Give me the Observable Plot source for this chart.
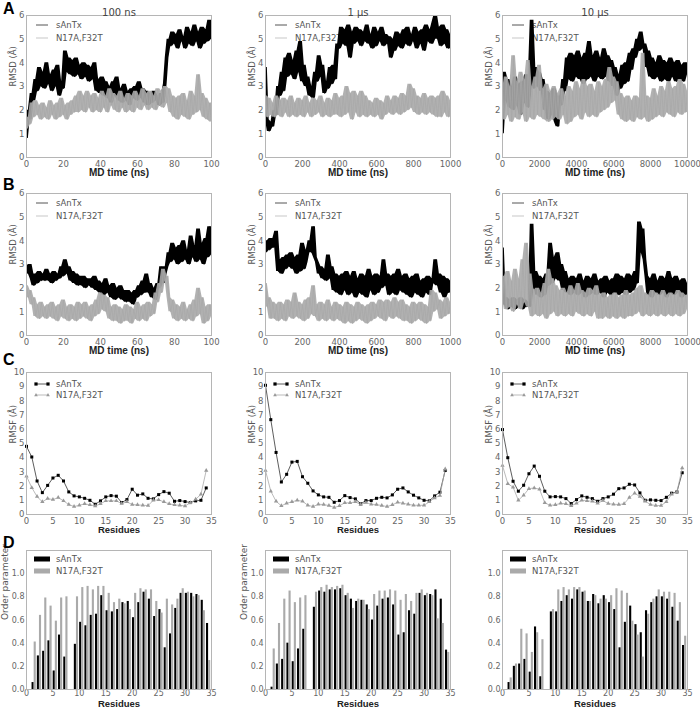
<!DOCTYPE html>
<html><head><meta charset="utf-8">
<script src="https://cdn.jsdelivr.net/npm/d3@7"></script>
<script src="https://cdn.jsdelivr.net/npm/@observablehq/plot@0.6"></script>
<style>
body{margin:0;background:#fff;}
#fig{position:relative;width:700px;height:711px;overflow:hidden;background:#fff;font-family:"DejaVu Sans",sans-serif;}
.letter{position:absolute;font-family:"Liberation Sans",Arial,sans-serif;font-weight:bold;font-size:16px;line-height:16px;color:#000;}
</style></head>
<body><div id="fig"></div>
<script>
// ---------- series names ----------
const seriesNames = ["sAnTx", "N17A,F32T"];
const columnTitles = ["100 ns", "1 µs", "10 µs"];
const timeSteps = [1, 10, 100];       // ns between samples
const timeMax = [100, 1000, 10000];
const timeTicks = [[0,20,40,60,80,100],[0,200,400,600,800,1000],[0,2000,4000,6000,8000,10000]];
const rmsdTicks = [0,1,2,3,4,5,6];
const rmsfTicks = [0,1,2,3,4,5,6,7,8,9,10];
const residueTicks = [0,5,10,15,20,25,30,35];
const orderTicks = [0,0.2,0.4,0.6,0.8,1.0];

// ---------- Row A: RMSD ----------
const rmsdA_100_wt = [0.8,2.0,1.6,2.7,2.4,3.3,2.8,3.8,3.0,3.6, 2.9,4.0,3.1,3.5,2.8,3.7,3.0,3.9,2.6,3.2, 2.9,4.5,3.6,4.2,3.5,4.1,3.4,4.2,3.5,3.9, 3.3,4.0,3.4,3.9,3.2,3.8,3.3,4.0,2.8,3.3, 2.7,3.4,2.6,3.2,2.5,3.0,2.3,3.2,2.6,3.4, 2.4,2.9,2.3,3.1,2.4,2.8,2.2,2.9,2.5,3.0, 2.4,3.2,2.5,2.9,2.3,2.8,2.2,2.7,2.3,2.8, 2.4,2.6,2.2,2.7,2.3,3.1,4.2,5.0,4.7,5.3, 4.8,5.2,4.6,5.4,4.9,5.1,4.6,5.5,4.8,5.3, 4.7,5.6,4.9,5.3,4.6,5.5,4.8,5.4,4.9,5.8, 5.0];
const rmsdA_100_mut = [1.2,1.7,1.4,2.3,1.7,2.4,1.8,2.2,1.6,2.3, 1.7,2.1,1.6,2.4,1.8,2.2,1.6,2.3,1.7,2.5, 1.8,2.2,1.6,2.3,1.8,2.4,1.9,2.6,1.9,2.8, 2.0,2.6,1.9,2.8,2.1,2.6,1.9,2.7,2.0,2.5, 1.9,2.8,2.1,2.6,1.9,2.9,2.2,2.7,2.0,2.6, 1.9,2.8,2.1,2.5,1.9,2.7,2.0,2.6,1.9,2.8, 2.1,2.6,2.0,2.9,2.2,2.7,2.0,2.8,2.1,2.6, 2.0,2.9,2.2,2.8,2.1,3.0,2.3,2.9,1.9,2.6, 1.7,2.5,1.6,2.6,1.8,2.7,1.7,2.4,1.6,2.8, 1.8,2.6,1.9,3.5,2.0,2.7,1.7,2.5,1.6,2.3, 1.5];
const rmsdA_1us_wt = [3.8,1.6,1.1,1.5,1.3,2.0,1.8,3.0,2.6,3.6, 2.8,4.2,3.4,4.4,3.5,4.1,3.3,4.5,3.6,4.9, 3.2,3.9,3.0,3.4,2.6,3.0,2.5,3.6,3.2,4.3, 3.4,3.9,2.7,3.2,2.9,3.8,3.1,3.9,3.3,4.8, 4.6,5.5,4.8,5.4,4.7,5.6,4.2,5.3,4.8,5.5, 4.9,5.4,4.7,5.3,4.9,5.6,4.8,5.2,4.6,5.5, 4.7,5.3,4.9,5.5,4.7,5.2,4.8,5.1,4.2,5.0, 4.5,5.3,4.7,5.2,4.6,5.4,4.8,5.5,4.7,5.2, 4.9,5.5,4.6,5.3,4.8,5.4,4.5,5.6,4.9,5.4, 4.8,5.7,6.0,5.0,5.5,4.7,5.6,4.8,5.4,4.6, 5.2];
const rmsdA_1us_mut = [2.6,1.7,2.5,1.8,2.3,1.7,2.6,1.8,2.4,1.7, 2.5,1.9,2.4,1.7,2.6,1.8,2.3,1.7,2.5,1.8, 2.4,1.7,2.6,1.9,2.3,1.7,2.5,1.8,2.4,1.9, 2.6,1.7,2.3,1.8,2.5,1.7,2.4,1.8,2.7,1.8, 2.5,1.7,2.6,1.8,3.0,1.9,2.7,1.6,2.8,1.9, 2.6,1.7,2.8,1.8,2.6,1.7,2.4,1.8,2.3,1.7, 2.5,1.8,2.4,1.6,2.3,1.8,2.6,1.9,2.4,1.8, 2.6,1.9,2.5,1.8,2.7,1.9,2.6,2.0,3.1,2.1, 2.9,1.9,2.6,1.8,2.5,1.9,2.7,1.8,2.5,1.9, 2.6,1.8,2.5,1.7,2.6,1.7,2.8,1.9,2.6,1.7, 2.4];
const rmsdA_10us_wt = [1.0,3.6,2.4,3.3,2.1,3.0,2.0,3.4,2.2,3.1, 1.8,3.2,2.3,3.5,2.1,3.0,5.8,2.9,3.8,3.0, 3.6,2.8,3.3,2.0,2.8,1.6,2.7,1.8,2.9,1.5, 1.3,2.6,2.2,3.3,2.8,4.2,3.3,4.4,3.2,4.3, 3.4,4.5,3.3,4.2,3.1,4.4,3.3,4.9,3.4,4.3, 3.2,4.5,3.4,4.2,3.3,4.6,3.4,4.3,3.2,4.1, 3.0,3.8,2.6,3.5,2.9,3.9,3.1,4.0,3.2,4.4, 3.7,4.6,4.2,5.0,4.5,5.3,4.6,4.8,3.8,4.5, 3.4,4.2,3.3,4.0,3.4,4.3,3.2,4.1,3.3,4.0, 3.2,4.2,3.4,4.0,3.2,4.1,3.3,3.9,3.2,4.0, 3.5];
const rmsdA_10us_mut = [2.8,1.6,3.4,1.8,3.0,1.5,4.3,1.7,3.2,1.6, 3.6,1.9,3.3,1.5,4.1,1.7,3.0,1.6,3.4,1.8, 3.9,1.7,2.9,1.6,3.1,1.5,2.8,1.6,3.0,1.7, 2.7,1.6,2.9,1.8,2.6,1.4,3.0,1.5,2.8,1.7, 3.2,1.8,2.9,1.6,3.3,1.9,3.0,1.7,3.1,1.8, 2.8,1.7,3.2,1.9,3.0,2.0,3.3,2.1,3.8,2.3, 3.4,2.4,3.2,1.8,2.7,1.6,2.5,1.5,2.6,1.6, 2.4,1.5,2.6,1.7,2.5,1.6,4.4,1.7,2.6,1.5, 2.5,1.6,2.9,1.7,2.6,1.8,3.0,1.7,2.8,1.9, 3.2,1.8,2.9,1.7,3.0,1.9,3.3,1.8,3.1,1.9, 2.8];

// ---------- Row B: RMSD ----------
const rmsdB_100_wt = [2.9,2.6,3.0,2.4,2.1,2.6,2.2,2.7,2.3,2.6, 2.3,2.8,2.3,2.6,2.2,2.7,2.3,2.6,2.4,2.9, 2.5,3.2,2.6,2.9,2.3,2.7,2.2,2.6,2.1,2.5, 2.1,2.5,2.0,2.4,2.1,2.4,2.0,2.5,1.9,2.3, 1.8,2.2,1.7,2.4,1.8,2.1,1.6,2.2,1.5,2.0, 1.6,2.1,1.5,1.9,1.4,1.9,1.4,1.8,1.3,1.9, 1.6,2.1,1.7,2.3,1.8,2.6,1.8,2.2,1.6,2.0, 1.5,2.2,2.0,2.9,2.2,2.6,2.9,3.5,3.1,3.9, 3.2,3.7,3.0,3.8,3.1,4.0,3.2,3.6,3.0,4.2, 3.3,3.8,3.1,4.5,3.2,3.9,3.0,4.1,3.3,4.6, 3.4];
const rmsdB_100_mut = [2.1,1.6,1.9,1.3,1.6,0.8,1.3,0.7,1.4,0.8, 1.2,0.7,1.3,0.8,1.4,0.7,1.2,0.6,1.3,0.8, 1.5,0.7,1.2,0.6,1.3,0.7,1.2,0.6,1.4,0.7, 1.3,0.8,1.4,0.7,1.2,0.6,1.3,0.8,1.5,0.9, 1.8,1.1,1.7,1.0,1.6,0.7,1.2,0.6,1.3,0.6, 1.2,0.5,1.1,0.6,1.3,0.6,1.2,0.5,1.1,0.7, 1.4,0.6,1.2,0.7,1.3,0.6,1.4,0.8,1.3,0.9, 1.8,1.4,2.2,1.8,2.8,2.3,2.5,1.6,1.0,1.5, 0.7,1.3,0.6,1.2,0.7,1.4,0.6,1.1,0.7,1.3, 0.6,1.5,0.8,2.0,0.9,1.6,0.5,1.2,0.6,1.3, 0.8];
const rmsdB_1us_wt = [3.5,4.0,3.6,4.1,3.7,4.0,4.4,2.7,3.2,2.6, 3.3,2.8,3.4,2.9,3.5,2.8,3.3,2.6,3.4,2.7, 3.9,2.8,3.1,3.6,4.0,3.5,4.6,3.3,3.1,2.6, 2.9,2.4,2.8,2.3,3.4,2.4,2.9,1.9,2.6,1.8, 2.5,1.7,2.6,1.9,2.7,1.7,2.5,1.8,2.7,1.6, 2.4,1.8,2.6,1.7,2.5,1.6,2.8,1.9,2.5,1.7, 2.6,1.8,2.5,2.0,3.2,2.1,2.6,1.7,2.5,1.8, 2.6,1.7,2.8,1.9,2.5,1.8,2.6,1.7,2.4,1.6, 2.5,1.8,2.6,1.7,2.3,1.6,2.4,1.8,2.5,1.7, 2.4,2.2,3.2,2.1,2.6,1.8,2.5,1.6,2.4,1.8, 2.3];
const rmsdB_1us_mut = [2.2,1.2,1.6,0.7,1.4,0.7,1.3,0.6,1.4,0.7, 1.3,0.6,1.5,0.8,1.4,0.7,1.8,0.8,1.4,0.7, 1.3,0.6,1.5,0.7,1.6,0.9,2.1,0.8,1.3,0.6, 1.4,0.7,1.3,0.6,1.5,0.7,1.2,0.6,1.4,0.7, 1.3,0.6,1.2,0.5,1.4,0.6,1.3,0.5,1.2,0.6, 1.4,0.7,1.3,0.6,1.2,0.5,1.3,0.6,1.4,0.7, 1.3,0.8,1.5,0.7,1.4,0.6,1.5,0.8,1.4,0.7, 1.6,0.8,1.4,0.7,1.5,0.6,1.3,0.6,1.2,0.5, 1.4,0.6,1.3,0.7,1.4,0.6,1.3,0.5,1.2,0.6, 1.9,1.0,1.8,1.1,1.5,0.7,1.4,0.8,1.6,0.9, 1.4];
const rmsdB_10us_wt = [3.7,1.3,1.6,1.1,1.5,1.2,1.6,1.1,1.5,1.2, 1.6,1.1,1.5,1.2,1.4,1.2,4.7,2.0,2.7,1.7, 2.5,1.6,2.4,1.7,2.6,2.1,3.9,2.2,3.3,2.4, 3.5,2.3,3.0,1.9,2.7,1.8,2.4,1.7,2.5,1.8, 2.4,1.7,2.6,1.8,2.3,1.6,2.5,1.7,2.4,1.8, 2.6,1.7,2.3,1.8,2.4,1.6,2.5,1.8,2.3,1.7, 2.4,1.8,2.6,1.7,2.5,1.8,2.4,1.7,2.6,1.8, 2.5,1.9,2.7,2.2,4.8,3.5,4.5,3.2,2.5,1.7, 2.4,1.6,2.6,1.8,2.3,1.7,2.5,1.8,2.4,1.6, 2.7,1.8,2.4,1.7,2.5,1.8,2.3,1.6,2.4,1.7, 2.2];
const rmsdB_10us_mut = [1.6,2.5,1.1,2.7,1.2,2.3,1.0,2.8,1.3,2.4, 1.1,3.2,1.4,3.9,1.2,2.6,0.8,1.9,0.9,2.0, 0.8,1.8,0.9,2.2,0.7,2.8,0.9,2.4,1.0,2.1, 0.8,1.9,0.9,2.0,0.8,1.8,0.9,2.1,0.8,1.9, 1.0,2.2,0.9,1.9,0.8,1.8,0.9,2.0,0.8,1.9, 1.0,2.1,0.7,1.7,0.7,1.8,0.8,1.6,0.7,1.7, 0.8,1.8,0.7,1.6,0.8,1.7,0.7,1.9,0.8,1.7, 0.8,1.8,0.9,2.0,1.0,2.1,0.8,1.8,0.9,1.7, 0.8,1.9,0.9,1.8,0.8,1.7,0.9,1.9,0.8,1.7, 0.9,1.8,0.8,1.7,0.9,1.9,0.8,1.8,0.9,1.7, 1.1];

// ---------- Row C: RMSF per residue (0..34) ----------
const rmsfResidues = d3.range(0, 35);
const rmsf_100_wt = [4.8,4.05,2.36,1.54,2.05,2.57,2.76,2.36,1.59,1.31,1.24,1.14,1.0,0.72,0.96,1.24,1.33,1.29,0.84,1.05,1.78,1.36,1.45,1.14,1.1,1.4,1.61,1.5,0.93,0.98,0.91,0.84,0.96,1.0,1.87];
const rmsf_100_mut = [2.7,1.89,1.26,0.89,1.12,1.05,1.19,0.96,0.7,0.56,0.65,0.75,0.68,0.6,0.75,0.96,0.96,0.96,0.77,0.89,0.7,0.68,0.65,0.63,1.0,1.03,0.89,0.75,0.68,0.65,0.6,0.82,1.07,1.42,3.1];
const rmsf_1us_wt = [9.1,6.68,4.37,2.29,2.83,3.69,3.74,2.66,2.2,1.66,1.38,1.24,1.21,0.86,0.98,1.33,1.19,1.1,0.75,0.98,0.98,1.14,1.21,1.17,1.38,1.78,1.87,1.59,1.36,1.17,1.0,0.96,1.31,1.57,3.1];
const rmsf_1us_mut = [3.1,1.64,0.93,0.61,0.79,0.89,1.0,0.93,0.65,0.56,0.72,0.7,0.63,0.49,0.61,0.82,0.82,0.89,0.7,0.84,0.72,0.7,0.63,0.56,0.68,0.86,0.79,0.72,0.65,0.65,0.65,0.89,1.17,1.33,3.2];
const rmsf_10us_wt = [5.98,4.0,2.34,1.64,2.06,2.87,3.41,2.69,1.64,1.24,1.26,1.24,1.12,0.77,1.05,1.31,1.21,1.12,0.93,1.12,1.24,1.43,1.82,1.87,2.13,2.08,1.52,1.0,1.03,1.0,0.98,1.21,1.5,1.59,2.94];
const rmsf_10us_mut = [3.45,2.17,1.92,1.0,1.36,1.82,1.87,1.78,0.82,0.65,0.68,0.79,0.75,0.61,0.79,1.0,0.96,0.93,0.79,0.98,0.77,0.72,0.7,0.75,1.19,1.5,1.26,0.93,0.7,0.63,0.63,0.89,1.43,1.59,3.27];

// ---------- Row D: order parameter per residue (1..34) ----------
const orderResidues = d3.range(1, 35);
const order_100_wt = [0.06,0.29,0.33,0.42,0.16,0.47,0.28,null,0.39,0.58,0.55,0.64,0.65,0.81,0.68,0.67,0.69,0.75,0.76,0.62,0.75,0.84,0.78,0.63,0.69,0.36,0.48,0.70,0.83,0.83,0.83,0.82,0.77,0.57];
const order_100_mut = [0.41,0.64,0.79,0.72,0.59,0.79,0.80,null,0.80,0.88,0.89,0.86,0.89,0.89,0.83,0.75,0.78,0.74,0.69,0.83,0.87,0.86,0.86,0.76,0.66,0.78,0.73,0.78,0.87,0.84,0.80,0.81,0.68,0.25];
const order_1us_wt = [0.02,0.22,0.26,0.40,0.24,0.35,0.52,null,0.71,0.85,0.84,0.86,0.86,0.87,0.81,0.78,0.76,0.77,0.73,0.60,0.72,0.78,0.79,0.73,0.47,0.49,0.68,0.65,0.83,0.81,0.82,0.86,0.78,0.34];
const order_1us_mut = [0.35,0.57,0.78,0.85,0.75,0.79,0.81,null,0.84,0.88,0.90,0.88,0.89,0.90,0.83,0.70,0.78,0.77,0.69,0.82,0.85,0.85,0.86,0.85,0.77,0.82,0.76,0.83,0.86,0.83,0.81,0.61,0.57,0.32];
const order_10us_wt = [0.06,0.20,0.22,0.26,0.15,0.54,0.11,null,0.67,0.67,0.76,0.81,0.78,0.86,0.84,0.76,0.82,0.74,0.81,0.75,0.69,0.36,0.58,0.72,0.56,0.49,0.68,0.75,0.80,0.80,0.78,0.71,0.59,0.38];
const order_10us_mut = [0.10,0.22,0.52,0.48,0.32,0.49,0.43,null,0.69,0.86,0.88,0.86,0.88,0.88,0.85,0.76,0.81,0.78,0.78,0.81,0.87,0.85,0.83,0.59,0.47,0.28,0.65,0.78,0.86,0.84,0.84,0.83,0.75,0.46];

// ---------- layout ----------
const fig = document.getElementById("fig");
const FW = 185, ML = 36, MR = 14, MT = 22, MB = 30;
const colLeft = [26, 265, 502];
const rowTop = [15, 193, 372, 550];
const rowH = [142, 142, 142, 139];
const BLACK = "#000", GREY = "#a8a8a8";

function ts(vals, step) { return vals.map((v, i) => ({t: i * step, v})); }
// local envelope of the sampled trace (min / max of neighbouring samples)
function env(d) {
  return d.map((p, i) => {
    const a = d[Math.max(0, i - 1)].v, b = d[Math.min(d.length - 1, i + 1)].v;
    return {t: p.t, lo: Math.min(a, p.v, b), hi: Math.max(a, p.v, b)};
  });
}
function res(xs, vals) { return vals.map((v, i) => ({r: xs[i], v})).filter(d => d.v != null); }

function legendMark(items) {
  return () => {
    const g = d3.create("svg:g").attr("font-family", "DejaVu Sans").attr("font-size", "8.5px").attr("text-anchor", "start");
    for (const it of items) {
      const y = MT + it.dy;
      if (it.kind === "line" || it.kind === "marker") {
        g.append("line").attr("x1", ML + 10).attr("x2", ML + 22).attr("y1", y).attr("y2", y)
          .attr("stroke", it.color).attr("stroke-width", it.width || 1);
      }
      if (it.kind === "marker") {
        for (const xx of [ML + 10, ML + 22]) {
          if (it.symbol === "square") g.append("rect").attr("x", xx - 1.6).attr("y", y - 1.6).attr("width", 3.2).attr("height", 3.2).attr("fill", it.mcolor);
          else g.append("path").attr("d", `M${xx},${y - 2}L${xx + 1.8},${y + 1.3}L${xx - 1.8},${y + 1.3}Z`).attr("fill", it.mcolor);
        }
      }
      if (it.kind === "patch") {
        g.append("rect").attr("x", ML + 8).attr("y", y - 2.5).attr("width", 16).attr("height", 5).attr("fill", it.color);
      }
      g.append("text").attr("x", ML + 30).attr("y", y).attr("dy", "0.35em").attr("text-anchor", "start").attr("fill", "#555").text(it.label);
    }
    return g.node();
  };
}

function panel({col, row, x, y, marks, legend, xlabel, xlabelDy, xlabelSize, ylabel, ylabelDx, ylabelSize, title, tickFont}) {
  const m = [];
  if (legend) m.push(legendMark(legend));
  m.push(...marks);
  m.push(Plot.frame({stroke: "#b5b5b5"}));
  if (xlabel) m.push(Plot.text([xlabel], {text: d => d, frameAnchor: "bottom", dy: xlabelDy, fontWeight: "bold", fontSize: xlabelSize, fill: "#222", fontFamily: "Liberation Sans"}));
  if (ylabel) m.push(Plot.text([ylabel], {text: d => d, frameAnchor: "left", dx: ylabelDx, rotate: -90, fontSize: ylabelSize, fill: "#555"}));
  if (title) m.push(Plot.text([title], {text: d => d, frameAnchor: "top", dy: -7, fontSize: 10, fill: "#444"}));
  const svg = Plot.plot({
    width: FW + ML + MR, height: rowH[row] + MT + MB,
    marginLeft: ML, marginRight: MR, marginTop: MT, marginBottom: MB,
    x, y, marks: m,
    style: {background: "transparent", color: "#666", fontFamily: "DejaVu Sans", fontSize: (tickFont || 8.5) + "px", overflow: "visible"}
  });
  svg.style.position = "absolute";
  svg.style.left = (colLeft[col] - ML) + "px";
  svg.style.top = (rowTop[row] - MT) + "px";
  fig.appendChild(svg);
}

const intFmt = d => String(d);
const rmsdSets = [
  [[rmsdA_100_wt, rmsdA_100_mut], [rmsdA_1us_wt, rmsdA_1us_mut], [rmsdA_10us_wt, rmsdA_10us_mut]],
  [[rmsdB_100_wt, rmsdB_100_mut], [rmsdB_1us_wt, rmsdB_1us_mut], [rmsdB_10us_wt, rmsdB_10us_mut]]
];
const lineLegend = [
  {kind: "line", dy: 10, color: "#555", width: 1, label: seriesNames[0]},
  {kind: "line", dy: 23, color: "#d0d0d0", width: 1.2, label: seriesNames[1]}
];

for (let row = 0; row < 2; row++) {
  for (let c = 0; c < 3; c++) {
    const [wt, mut] = rmsdSets[row][c];
    const w = ts(wt, timeSteps[c]), mu = ts(mut, timeSteps[c]);
    panel({
      col: c, row,
      x: {domain: [0, timeMax[c]], ticks: timeTicks[c], tickFormat: intFmt, tickSize: 0, tickPadding: 3, label: null},
      y: {domain: [0, 6], ticks: rmsdTicks, tickFormat: intFmt, tickSize: 0, tickPadding: 2, label: null},
      legend: lineLegend,
      marks: [
        Plot.areaY(env(w), {x: "t", y1: "lo", y2: "hi", fill: BLACK, fillOpacity: 1, clip: true}),
        Plot.line(w, {x: "t", y: "v", stroke: BLACK, strokeWidth: 0.7, clip: true}),
        Plot.areaY(env(mu), {x: "t", y1: "lo", y2: "hi", fill: GREY, fillOpacity: 0.9, clip: true}),
        Plot.line(mu, {x: "t", y: "v", stroke: GREY, strokeWidth: 0.7, clip: true})
      ],
      xlabel: "MD time (ns)", xlabelDy: 18.5, xlabelSize: 10,
      ylabel: "RMSD (Å)", ylabelDx: -13, ylabelSize: 8.5,
      title: row === 0 ? columnTitles[c] : null
    });
  }
}

// Row C
const rmsfSets = [[rmsf_100_wt, rmsf_100_mut], [rmsf_1us_wt, rmsf_1us_mut], [rmsf_10us_wt, rmsf_10us_mut]];
const markerLegend = [
  {kind: "marker", dy: 12, color: "#333", mcolor: "#000", symbol: "square", width: 0.8, label: seriesNames[0]},
  {kind: "marker", dy: 23, color: "#aaa", mcolor: "#999", symbol: "triangle", width: 0.8, label: seriesNames[1]}
];
for (let c = 0; c < 3; c++) {
  const [wt, mut] = rmsfSets[c];
  const w = res(rmsfResidues, wt), mu = res(rmsfResidues, mut);
  panel({
    col: c, row: 2,
    x: {domain: [0, 35], ticks: residueTicks, tickFormat: intFmt, tickSize: 0, tickPadding: 3, label: null},
    y: {domain: [0, 10], ticks: rmsfTicks, tickFormat: intFmt, tickSize: 0, tickPadding: 2, label: null},
    legend: markerLegend,
    marks: [
      Plot.line(w, {x: "r", y: "v", stroke: "#333", strokeWidth: 0.8}),
      Plot.dot(w, {x: "r", y: "v", symbol: "square", fill: "#000", r: 1.7}),
      Plot.line(mu, {x: "r", y: "v", stroke: "#aaa", strokeWidth: 0.8}),
      Plot.dot(mu, {x: "r", y: "v", symbol: "triangle", fill: "#999", r: 1.6})
    ],
    xlabel: "Residues", xlabelDy: 18.5, xlabelSize: 9.5,
    ylabel: "RMSF (Å)", ylabelDx: -13, ylabelSize: 8.5
  });
}

// Row D
const orderSets = [[order_100_wt, order_100_mut], [order_1us_wt, order_1us_mut], [order_10us_wt, order_10us_mut]];
const patchLegend = [
  {kind: "patch", dy: 9, color: "#000", label: seriesNames[0]},
  {kind: "patch", dy: 21, color: "#aaa", label: seriesNames[1]}
];
for (let c = 0; c < 3; c++) {
  const [wt, mut] = orderSets[c];
  panel({
    col: c, row: 3, tickFont: 8,
    x: {domain: [0, 35], ticks: residueTicks, tickFormat: intFmt, tickSize: 0, tickPadding: 1, label: null},
    y: {domain: [0, 1.2], ticks: orderTicks, tickFormat: d3.format(".1f"), tickSize: 0, tickPadding: 2, label: null},
    legend: patchLegend,
    marks: [
      Plot.rectY(res(orderResidues, wt), {x1: d => d.r + 0.05, x2: d => d.r + 0.45, y: "v", fill: "#000"}),
      Plot.rectY(res(orderResidues, mut), {x1: d => d.r + 0.45, x2: d => d.r + 0.85, y: "v", fill: "#aaa"})
    ],
    xlabel: "Residues", xlabelDy: 17.5, xlabelSize: 9.5,
    ylabel: c < 2 ? "Order parameter" : null, ylabelDx: -21, ylabelSize: 9
  });
}

// panel letters
[["A", 3, 1], ["B", 3, 177], ["C", 3, 352], ["D", 3, 535]].forEach(([t, l, tp]) => {
  const d = document.createElement("div");
  d.className = "letter"; d.textContent = t;
  d.style.left = l + "px"; d.style.top = tp + "px";
  fig.appendChild(d);
});
</script></body></html>
